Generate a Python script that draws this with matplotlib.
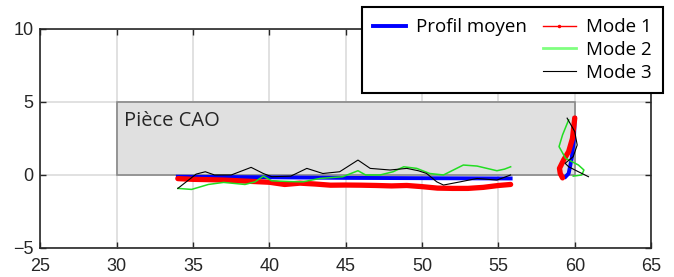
import numpy as np
import matplotlib
matplotlib.use("Agg")
import matplotlib.pyplot as plt
from matplotlib.patches import Rectangle
from matplotlib.lines import Line2D

# CAD part outline (x0, y0, width, height)
piece_x, piece_y, piece_w, piece_h = 30, 0, 30, 5

# mean profile: horizontal part then vertical part near x=60
moyen_x = [34.0, 40.0, 45.0, 50.0, 55.8]
moyen_y = [-0.12, -0.16, -0.2, -0.22, -0.24]
moyen_vx = [60.0, 59.95, 59.8, 59.6, 59.4]
moyen_vy = [3.9, 2.5, 1.14, 0.1, -0.12]

# mode 1
mode1_x = [34, 35, 36, 37, 38, 39, 40, 41, 42, 43, 44, 45, 46, 47, 48, 49, 50, 51, 52, 53, 54, 55, 55.8]
mode1_y = [-0.25, -0.3, -0.32, -0.35, -0.4, -0.45, -0.5, -0.65, -0.56, -0.62, -0.7, -0.69, -0.7,
           -0.72, -0.75, -0.72, -0.8, -0.9, -0.92, -0.92, -0.85, -0.72, -0.65]
mode1_vx = [60.0, 59.85, 59.6, 59.27, 59.0, 59.05, 59.2]
mode1_vy = [3.9, 2.5, 1.6, 1.02, 0.45, 0.1, -0.2]

# mode 2
mode2_x = [34.0, 34.9, 36.0, 37.0, 38.4, 39.06, 39.6, 40.15, 41.35, 42.2, 43.3, 44.8, 45.8, 46.3,
           47.25, 48.1, 48.8, 49.65, 50.5, 51.4, 52.7, 53.6, 54.9, 55.4, 55.8]
mode2_y = [-0.92, -0.99, -0.65, -0.51, -0.65, -0.47, -0.08, -0.4, -0.45, -0.47, -0.24, -0.12, 0.29,
           0.0, 0.0, 0.22, 0.56, 0.45, 0.1, 0.0, 0.68, 0.61, 0.29, 0.4, 0.56]
mode2_vx = [59.6, 59.2, 58.97, 59.4, 60.24, 60.6, 60.46, 59.9]
mode2_vy = [3.77, 2.74, 1.94, 1.14, 0.68, 0.34, 0.0, -0.08]

# mode 3
mode3_x = [34.0, 35.2, 35.8, 36.4, 37.5, 38.8, 39.6, 40.15, 41.4, 42.45, 43.5, 44.6, 45.8, 46.6,
           47.9, 49.0, 49.75, 50.3, 50.96, 51.4, 52.5, 53.6, 54.9, 55.8]
mode3_y = [-0.92, 0.06, 0.22, 0.0, 0.0, 0.52, 0.1, -0.12, -0.08, 0.45, 0.1, 0.22, 1.02, 0.45,
           0.34, 0.45, 0.29, 0.1, -0.47, -0.69, -0.47, -0.24, -0.35, 0.0]
mode3_vx = [59.5, 60.0, 60.16, 59.9, 59.37, 59.6, 60.24, 60.9]
mode3_vy = [3.89, 2.97, 2.05, 1.25, 0.8, 0.56, 0.22, -0.12]

xticks = [25, 30, 35, 40, 45, 50, 55, 60, 65]
yticks = [-5, 0, 5, 10]

c_moyen = "#0000ff"
c_mode1 = "#ff0000"
c_mode2 = "#22dd22"
c_mode3 = "#000000"

fig = plt.figure(figsize=(6.74, 2.77), dpi=100)
ax = fig.add_axes([0.060, 0.1047, 0.906, 0.791])

ax.add_patch(Rectangle((piece_x, piece_y), piece_w, piece_h, facecolor="#e0e0e0",
                       edgecolor="#888888", linewidth=1.2, zorder=1))
ax.text(30.45, 3.7, "Pièce CAO", fontsize=14.5, family="Open Sans", color="#262626",
        va="center", ha="left", zorder=2)

ax.plot(moyen_x, moyen_y, color=c_moyen, lw=2.8, zorder=3)
ax.plot(moyen_vx, moyen_vy, color=c_moyen, lw=2.8, zorder=3)
ax.plot(mode1_x, mode1_y, color=c_mode1, lw=3.8, zorder=4, solid_capstyle="round")
ax.plot(mode1_vx, mode1_vy, color=c_mode1, lw=3.8, zorder=4, solid_capstyle="round")
ax.plot(mode2_x, mode2_y, color=c_mode2, lw=1.1, zorder=5)
ax.plot(mode2_vx, mode2_vy, color=c_mode2, lw=1.1, zorder=5)
ax.plot(mode3_x, mode3_y, color=c_mode3, lw=0.8, zorder=6)
ax.plot(mode3_vx, mode3_vy, color=c_mode3, lw=0.8, zorder=6)

ax.set_xlim(25, 65)
ax.set_ylim(-5, 10)
ax.set_xticks(xticks)
ax.set_yticks(yticks)
ax.grid(True, color="#dcdcdc", lw=1.2, zorder=0)
ax.set_axisbelow(True)
ax.tick_params(direction="in", length=4, width=1, top=True, right=True,
               labelsize=13, colors="#262626")
ax.tick_params(axis="x", pad=7)
ax.tick_params(axis="y", pad=5)
for lab in ax.get_xticklabels() + ax.get_yticklabels():
    lab.set_family("Liberation Sans")
for s in ax.spines.values():
    s.set_color("#262626")
    s.set_linewidth(1.2)

blank = Line2D([], [], color="none")
handles = [
    Line2D([], [], color=c_moyen, lw=2.8),
    blank, blank,
    Line2D([], [], color=c_mode1, lw=1, marker=".", markersize=3),
    Line2D([], [], color="#80ff80", lw=2),
    Line2D([], [], color=c_mode3, lw=0.8),
]
labels = ["Profil moyen", "", "", "Mode 1", "Mode 2", "Mode 3"]
leg = fig.legend(handles, labels, ncol=2, loc="upper right", numpoints=1,
                 bbox_to_anchor=(0.984, 0.975), frameon=True, fancybox=False,
                 prop={"family": "Open Sans", "size": 13.5},
                 handlelength=1.75, handletextpad=0.55, columnspacing=0.85,
                 labelspacing=0.25, borderpad=0.6, borderaxespad=0)
leg.get_frame().set_edgecolor("#000000")
leg.get_frame().set_linewidth(1.5)
leg.get_frame().set_alpha(1)

fig.savefig("out.png", dpi=100)
